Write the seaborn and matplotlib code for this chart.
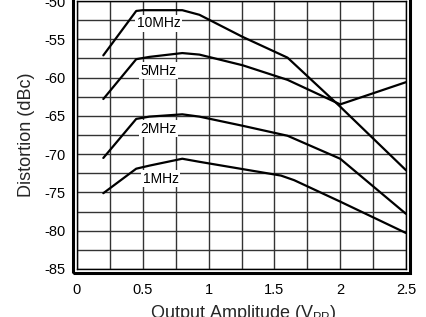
import matplotlib
matplotlib.use("Agg")
import matplotlib.pyplot as plt
import seaborn as sns
import pandas as pd
from matplotlib.ticker import MultipleLocator
from matplotlib.patches import Rectangle

sns.set_theme(style="white")
plt.rcParams['font.family'] = ['Liberation Sans', 'DejaVu Sans']

x_10 = [0.2, 0.45, 0.5, 0.8, 0.93, 1.26, 1.6, 2.0, 2.5]
y_10 = [-57.1, -51.3, -51.2, -51.2, -51.8, -54.7, -57.4, -63.8, -72.1]
x_5 = [0.2, 0.45, 0.55, 0.8, 0.93, 1.26, 1.6, 2.0, 2.5]
y_5 = [-62.8, -57.6, -57.3, -56.8, -57.0, -58.4, -60.3, -63.5, -60.6]
x_2 = [0.2, 0.45, 0.55, 0.8, 0.93, 1.26, 1.6, 2.0, 2.5]
y_2 = [-70.5, -65.4, -65.1, -64.8, -65.1, -66.3, -67.6, -70.6, -77.8]
x_1 = [0.2, 0.45, 0.55, 0.8, 0.93, 1.55, 1.65, 2.0, 2.5]
y_1 = [-75.1, -71.9, -71.5, -70.6, -71.0, -72.8, -73.4, -76.2, -80.3]

series_names = ["10MHz", "5MHz", "2MHz", "1MHz"]
label_x = [0.62, 0.62, 0.62, 0.635]
label_y = [-52.9, -59.1, -66.7, -73.2]

xticks = [0, 0.5, 1, 1.5, 2, 2.5]
xtick_labels = ["0", "0.5", "1", "1.5", "2", "2.5"]
yticks = [-85, -80, -75, -70, -65, -60, -55, -50]

W, H = 427, 317
fig = plt.figure(figsize=(W / 100, H / 100), dpi=100)
ax = fig.add_axes([77 / W, (H - 269) / H, (406 - 77) / W, (269 - 1) / H])

frames = []
for name, xs, ys in zip(series_names, [x_10, x_5, x_2, x_1], [y_10, y_5, y_2, y_1]):
    frames.append(pd.DataFrame({"x": xs, "y": ys, "s": name}))
df = pd.concat(frames, ignore_index=True)
for name in series_names:
    d = df[df.s == name]
    sns.lineplot(data=d, x="x", y="y", ax=ax, color="black", linewidth=1.6,
                 sort=False, estimator=None, legend=False, zorder=3)

ax.set_xlim(0, 2.5)
ax.set_ylim(-85, -50)
ax.xaxis.set_minor_locator(MultipleLocator(0.25))
ax.yaxis.set_minor_locator(MultipleLocator(2.5))
ax.set_xticks(xticks)
ax.set_xticklabels(xtick_labels)
ax.set_yticks(yticks)
ax.set_yticklabels([str(v) for v in yticks])
ax.grid(which="both", color="#333333", linewidth=1.0)
ax.tick_params(which="both", length=0, labelsize=10.5, colors="black")
ax.tick_params(axis="x", pad=10)
ax.tick_params(axis="y", pad=8)
for sp in ax.spines.values():
    sp.set_visible(True)
    sp.set_color("black")
    sp.set_linewidth(1.0)

# outer thick frame
bb = ax.get_position()
ox = 4 / W
oy = 4 / H
outer = Rectangle((bb.x0 - ox, bb.y0 - oy), bb.width + 2 * ox, bb.height + 2 * oy,
                  transform=fig.transFigure, fill=False, lw=2.2, ec="black", clip_on=False)
fig.patches.append(outer)

for name, lx, ly in zip(series_names, label_x, label_y):
    ax.text(lx, ly, name, ha="center", va="center", fontsize=10, color="black",
            bbox=dict(facecolor="white", edgecolor="none", pad=1.0), zorder=4)

ax.set_xlabel(r"Output Amplitude (V$_{\mathregular{PP}}$)", fontsize=13)
ax.set_ylabel("Distortion (dBc)", fontsize=13)
ax.xaxis.set_label_coords(0.505, -0.125)
ax.yaxis.set_label_coords(-0.128, 0.5)

fig.savefig("out.png", dpi=100)
